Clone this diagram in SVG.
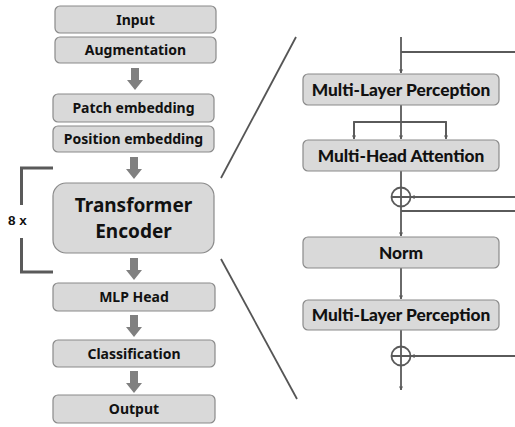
<svg xmlns="http://www.w3.org/2000/svg" width="515" height="427" viewBox="0 0 515 427">
  <style>
    .box { fill: #d9d9d9; stroke: #8a8a8a; stroke-width: 1.2; }
    .lt { font-family: "Noto Sans", "Noto Sans CJK KR", sans-serif; font-weight: bold; font-size: 14px; fill: #111; text-anchor: middle; }
    .big { font-size: 19px; }
    .rt { font-family: Lato, "Open Sans", sans-serif; font-weight: 900; font-size: 17.3px; fill: #111; text-anchor: middle; }
    .line { stroke: #5a5a5a; stroke-width: 2; fill: none; }
    .thin { stroke: #5a5a5a; stroke-width: 1.8; fill: none; }
    .blk { fill: #808080; }
  </style>
  <defs>
    <marker id="ah" viewBox="0 0 10 10" refX="9" refY="5" markerWidth="4" markerHeight="4" orient="auto" markerUnits="userSpaceOnUse">
      <path d="M0,0 L10,5 L0,10 z" fill="#5a5a5a"/>
    </marker>
    <path id="bigArrow" d="M-4,0 L4,0 L4,12 L8,12 L0,22 L-8,12 L-4,12 z"/>
  </defs>

  <!-- left pipeline -->
  <g id="input"><rect class="box" x="55" y="6" width="161" height="27" rx="5"/><text class="lt" x="135.5" y="24.5">Input</text></g>
  <g id="augmentation"><rect class="box" x="55" y="37" width="161" height="26" rx="5"/><text class="lt" x="135.5" y="55">Augmentation</text></g>
  <g id="patch-embedding"><rect class="box" x="53" y="94" width="161" height="28" rx="5"/><text class="lt" x="133.5" y="113">Patch embedding</text></g>
  <g id="position-embedding"><rect class="box" x="53" y="126" width="161" height="26" rx="5"/><text class="lt" x="133.5" y="144">Position embedding</text></g>
  <g id="transformer-encoder"><rect class="box" x="53" y="183" width="161" height="70" rx="13"/><text class="lt big" x="133.5" y="212">Transformer</text><text class="lt big" x="133.5" y="238">Encoder</text></g>
  <g id="mlp-head"><rect class="box" x="53" y="283" width="162" height="28" rx="5"/><text class="lt" x="134" y="302">MLP Head</text></g>
  <g id="classification"><rect class="box" x="53" y="340" width="162" height="27" rx="5"/><text class="lt" x="134" y="358.5">Classification</text></g>
  <g id="output"><rect class="box" x="53" y="395" width="162" height="28" rx="5"/><text class="lt" x="134" y="414">Output</text></g>

  <!-- repeat bracket -->
  <g id="repeat">
    <path d="M53,168 H21.5 V205 M21.5,238 V272 H53" stroke="#5a5a5a" stroke-width="3" fill="none"/>
    <text x="8" y="225" font-family="'Liberation Sans', Arial, sans-serif" font-weight="bold" font-size="13.5px" fill="#111">8 x</text>
  </g>

  <!-- block arrows and zoom lines -->
  <g id="connectors">
    <use href="#bigArrow" class="blk" x="135" y="68"/>
    <use href="#bigArrow" class="blk" x="134" y="157"/>
    <use href="#bigArrow" class="blk" x="134" y="258"/>
    <use href="#bigArrow" class="blk" x="134" y="315"/>
    <use href="#bigArrow" class="blk" x="134" y="371"/>

    <line x1="296" y1="37" x2="221" y2="178" stroke="#555" stroke-width="1.8"/>
    <line x1="221" y1="259" x2="297" y2="399" stroke="#555" stroke-width="1.8"/>

    <!-- encoder internals -->
    <path class="thin" d="M401,37 V73" marker-end="url(#ah)"/>
    <path class="thin" d="M401,52 H515"/>
    <path class="thin" d="M401,105 V139" marker-end="url(#ah)"/>
    <path class="thin" d="M354,136 V122 H446 V136"/>
    <path class="thin" d="M354,122 V139" marker-end="url(#ah)"/>
    <path class="thin" d="M446,122 V139" marker-end="url(#ah)"/>
    <path class="thin" d="M401,171 V187"/>
    <circle cx="401" cy="197" r="9.5" class="thin"/>
    <path class="thin" d="M391.5,197 H410.5 M401,187.5 V206.5"/>
    <path class="thin" d="M515,197 H411" marker-end="url(#ah)"/>
    <path class="thin" d="M401,206.5 V236" marker-end="url(#ah)"/>
    <path class="line" d="M401,211 H515"/>
    <path class="thin" d="M401,268 V299" marker-end="url(#ah)"/>
    <path class="thin" d="M401,330 V346"/>
    <circle cx="401" cy="356" r="9.5" class="thin"/>
    <path class="thin" d="M391.5,356 H410.5 M401,346.5 V365.5"/>
    <path class="thin" d="M515,356 H411" marker-end="url(#ah)"/>
    <path class="thin" d="M401,365.5 V390" marker-end="url(#ah)"/>
  </g>

  <!-- encoder blocks -->
  <g id="mlp-1"><rect class="box" x="303" y="74" width="196" height="31" rx="5"/><text class="rt" x="401" y="95.5">Multi-Layer Perception</text></g>
  <g id="multi-head-attention"><rect class="box" x="303" y="140" width="196" height="31" rx="5"/><text class="rt" x="401" y="161.5">Multi-Head Attention</text></g>
  <g id="norm"><rect class="box" x="303" y="237" width="196" height="31" rx="5"/><text class="rt" x="401" y="258.5">Norm</text></g>
  <g id="mlp-2"><rect class="box" x="303" y="300" width="196" height="30" rx="5"/><text class="rt" x="401" y="321">Multi-Layer Perception</text></g>
</svg>
